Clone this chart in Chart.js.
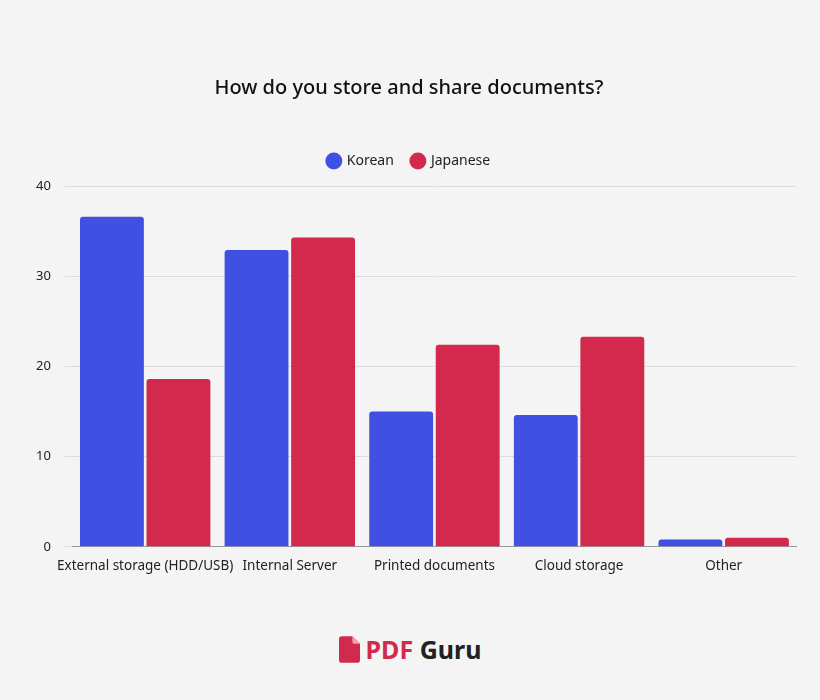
<!DOCTYPE html>
<html>
<head>
<meta charset="utf-8">
<script src="https://cdn.jsdelivr.net/npm/chart.js@4"></script>
<style>
  body { margin: 0; background: #f4f4f4; font-family: "Noto Sans", sans-serif; }
  #wrap { position: absolute; left: 0; top: 0; width: 820px; height: 577px; }
  #logo { position: absolute; top: 632px; left: 0; width: 820px; text-align: center; font-size: 25px; font-weight: bold; }
  #logo svg { vertical-align: -4px; margin-right: 6px; }
</style>
</head>
<body>
<div id="wrap"><canvas id="chart"></canvas></div>
<div id="logo"><svg width="21" height="27" viewBox="0 0 22 28"><path d="M3 0h11l8 8v17a3 3 0 0 1-3 3H3a3 3 0 0 1-3-3V3a3 3 0 0 1 3-3z" fill="#d12a4d"/><path d="M14 0v6a2 2 0 0 0 2 2h6z" fill="#f4a0b0"/></svg><span style="color:#d12a4d">PDF</span> <span style="color:#222">Guru</span></div>
<script>
const categories = ['External storage (HDD/USB)', 'Internal Server', 'Printed documents', 'Cloud storage', 'Other'];
const korean = [36.6, 32.9, 15.0, 14.6, 0.8];
const japanese = [18.6, 34.3, 22.4, 23.3, 1.0];

// extra gap under the legend
const legendGap = {
    id: 'legendGap',
    beforeInit(chart) {
        const fit = chart.legend.fit;
        chart.legend.fit = function() {
            fit.bind(chart.legend)();
            this.height += 8;
        };
    }
};

new Chart(document.getElementById('chart'), {
    type: 'bar',
    data: {
        labels: categories,
        datasets: [
            { label: 'Korean', data: korean, backgroundColor: '#3f50e2', borderRadius: 3, borderSkipped: 'bottom' },
            { label: 'Japanese', data: japanese, backgroundColor: '#d2294c', borderRadius: 3, borderSkipped: 'bottom' }
        ]
    },
    plugins: [legendGap],
    options: {
        responsive: true,
        maintainAspectRatio: false,
        animation: false,
        layout: { padding: { left: 22, right: 24, top: 76 } },
        datasets: { bar: { categoryPercentage: 0.92, barPercentage: 0.96 } },
        plugins: {
            title: {
                display: true,
                text: 'How do you store and share documents?',
                color: '#111',
                font: { size: 20, family: 'Noto Sans', weight: '500' },
                padding: { top: 0, bottom: 36 }
            },
            legend: {
                labels: { usePointStyle: true, pointStyle: 'circle', boxWidth: 12, boxHeight: 12, color: '#222', font: { size: 14, family: 'Noto Sans' }, padding: 18 }
            },
            tooltip: { enabled: false }
        },
        scales: {
            x: {
                grid: { display: false },
                border: { color: '#999' },
                ticks: { color: '#222', autoSkip: false, font: { size: 13.5, family: 'Noto Sans' }, maxRotation: 0 }
            },
            y: {
                min: 0, max: 40,
                ticks: { stepSize: 10, color: '#222', font: { size: 13, family: 'Noto Sans' }, padding: 14 },
                grid: { color: '#dcdcdc' },
                border: { display: false }
            }
        }
    }
});
</script>
</body>
</html>
